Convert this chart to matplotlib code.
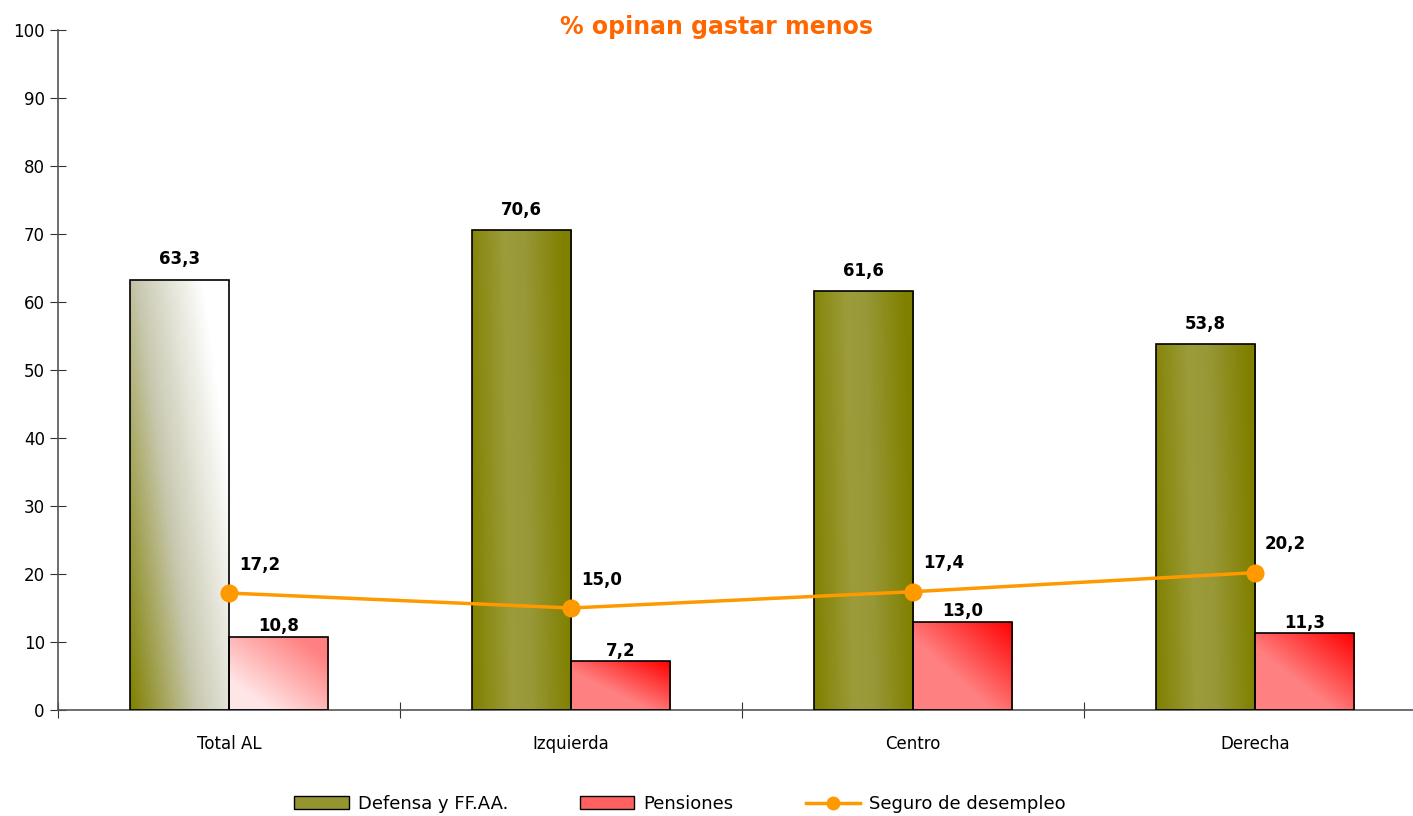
import numpy as np
import matplotlib
matplotlib.use("Agg")
import matplotlib.pyplot as plt
from matplotlib.colors import LinearSegmentedColormap
from matplotlib.patches import Patch
from matplotlib.lines import Line2D

categories = ["Total AL", "Izquierda", "Centro", "Derecha"]
defensa = [63.3, 70.6, 61.6, 53.8]
pensiones = [10.8, 7.2, 13.0, 11.3]
seguro = [17.2, 15.0, 17.4, 20.2]
yticks = list(range(0, 101, 10))

def fmt(v):
    return f"{v:.1f}".replace(".", ",")

fig = plt.figure(figsize=(14.13, 8.16), dpi=100)
ax = fig.add_axes([58/1413, 106/816, (1426-58)/1413, 680/816])
ax.set_xlim(-0.5, 3.5)
ax.set_ylim(0, 100)

x = np.arange(len(categories))
w = 0.29

olive_cmap = LinearSegmentedColormap.from_list("olive", [(0, "#808000"), (0.4, "#9c9c3a"), (0.6, "#989838"), (1, "#808000")])
olive_hi = LinearSegmentedColormap.from_list("olivehi", ["#808000", "#c8c8b0", "#ffffff"])
red_cmap = LinearSegmentedColormap.from_list("red", ["#ff8080", "#ff0000"])
pink_cmap = LinearSegmentedColormap.from_list("pink", ["#ffe6e6", "#ff8080"])

u = np.linspace(0, 1, 100)[None, :]
v = np.linspace(0, 1, 100)[:, None]

def grad_fill(bar, cmap, field):
    x0, y0 = bar.get_x(), bar.get_y()
    bw, bh = bar.get_width(), bar.get_height()
    im = ax.imshow(field, cmap=cmap, vmin=0, vmax=1, origin="lower",
                   extent=[x0, x0 + bw, y0, y0 + bh], aspect="auto", zorder=2,
                   interpolation="bilinear")
    im.set_clip_path(bar)

bars_d = ax.bar(x - w/2, defensa, width=w, facecolor="none", edgecolor="black", linewidth=1.2, zorder=3)
bars_p = ax.bar(x + w/2, pensiones, width=w, facecolor="none", edgecolor="black", linewidth=1.2, zorder=3)

for i, b in enumerate(bars_d):
    if i == 0:
        f = np.clip(0.75*u + 0.45*v, 0, 1)
        grad_fill(b, olive_hi, f)
    else:
        f = np.clip(u + 0.08*v, 0, 1)
        grad_fill(b, olive_cmap, f)
for i, b in enumerate(bars_p):
    if i == 0:
        f = np.clip((u + v - 0.4) / 1.3, 0, 1)
        grad_fill(b, pink_cmap, f)
    else:
        f = np.clip((u + v - 0.8) / 1.2, 0, 1)
        grad_fill(b, red_cmap, f)

ax.plot(x, seguro, color="#ff9900", linewidth=2.5, marker="o", markersize=12, zorder=5, clip_on=False)

for i in range(len(categories)):
    ax.annotate(fmt(defensa[i]), (x[i] - w/2, defensa[i]), xytext=(0, 8), textcoords="offset points",
                ha="center", va="bottom", fontsize=12, fontweight="bold")
    ax.annotate(fmt(pensiones[i]), (x[i] + w/2, pensiones[i]), xytext=(0, 1), textcoords="offset points",
                ha="center", va="bottom", fontsize=12, fontweight="bold")
    ax.annotate(fmt(seguro[i]), (x[i], seguro[i]), xytext=(22, 14), textcoords="offset points",
                ha="center", va="bottom", fontsize=12, fontweight="bold")

ax.set_yticks(yticks)
ax.set_yticklabels([str(t) for t in yticks], fontsize=12)
ax.set_xticks(np.arange(-0.5, 4, 1))
ax.set_xticklabels([])
ax.set_xticks(x, minor=True)
ax.set_xticklabels(categories, minor=True, fontsize=12)
ax.tick_params(axis="x", which="minor", length=0, pad=18)
ax.tick_params(axis="x", which="major", direction="inout", length=12, color="#333333")
ax.tick_params(axis="y", direction="inout", length=12, color="#333333")

for s in ["top", "right"]:
    ax.spines[s].set_visible(False)
for s in ["left", "bottom"]:
    ax.spines[s].set_color("#555555")
    ax.spines[s].set_linewidth(1.2)

fig.text(717/1413, 1 - 27/816, "% opinan gastar menos", ha="center", va="center",
         fontsize=17, fontweight="bold", color="#ff6600")

handles = [Patch(facecolor="#949430", edgecolor="black", label="Defensa y FF.AA."),
           Patch(facecolor="#ff6060", edgecolor="black", label="Pensiones"),
           Line2D([0], [0], color="#ff9900", lw=2.5, marker="o", markersize=9, label="Seguro de desempleo")]
fig.legend(handles=handles, loc="center", bbox_to_anchor=(680/1413, 1 - 804/816), ncol=3, frameon=False,
           fontsize=13, handlelength=3, columnspacing=4, handletextpad=0.5)

fig.savefig("out.png", dpi=100)
